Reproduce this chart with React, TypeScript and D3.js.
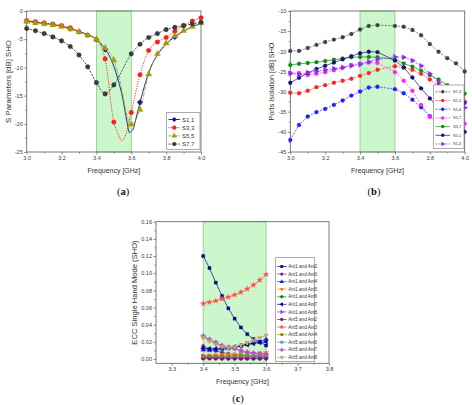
import * as d3 from 'd3';
import React, { useEffect, useRef } from 'react';

const W = 472;
const H = 405;

// ---- (a) reflection coefficients, dB ----
const freqA = [3.0, 3.05, 3.1, 3.15, 3.2, 3.25, 3.3, 3.35, 3.4, 3.45, 3.5, 3.6, 3.65, 3.7, 3.75, 3.8, 3.85, 3.9, 3.95, 4.0];
// S1,1 carries a symbol only every 0.2 GHz, the rest is the traced curve
const s11MarkFreq = [3.05, 3.25, 3.45, 3.65, 3.85];
const s11Mark = [-2.0, -3.1, -6.8, -16.2, -4.6];
const s11CurveFreq = [3.0, 3.1, 3.15, 3.2, 3.3, 3.35, 3.4, 3.475, 3.5, 3.525, 3.55, 3.575, 3.59, 3.6, 3.61, 3.625, 3.675, 3.7, 3.75, 3.8, 3.9, 3.95, 4.0];
const s11Curve = [-1.8, -2.2, -2.4, -2.7, -3.6, -4.2, -5.0, -8.0, -9.8, -12.3, -15.3, -19.6, -21.6, -21.3, -21.0, -19.3, -13.4, -10.9, -7.8, -5.9, -3.6, -2.8, -2.2];
const s33 = [-1.7, -1.9, -2.1, -2.3, -2.6, -3.0, -3.7, -4.3, -5.1, -8.5, -19.7, -18.0, -11.3, -7.0, -5.5, -4.7, -3.6, -2.6, -1.8, -1.2];
const s33DipFreq = [3.525, 3.545, 3.565, 3.58];
const s33Dip = [-21.8, -23.0, -22.3, -20.6];
const s55 = [-1.9, -2.1, -2.3, -2.5, -2.8, -3.2, -3.7, -4.3, -5.0, -6.6, -8.7, -20.1, -17.5, -11.2, -7.6, -5.7, -4.4, -3.5, -2.8, -2.1];
const s55DipFreq = [3.55, 3.575];
const s55Dip = [-14.6, -18.6];
const s77 = [-3.1, -3.5, -4.0, -4.6, -5.3, -6.3, -7.8, -9.9, -12.7, -14.7, -13.1, -7.6, -5.9, -4.7, -4.0, -3.3, -2.9, -2.6, -2.3, -2.0];
const namesA = ['S1,1', 'S3,3', 'S5,5', 'S7,7'];

// ---- (b) port isolation, dB ----
const freqB = freqA;
const isoGray = [-19.9, -19.9, -19.2, -18.4, -17.7, -17.1, -16.5, -15.7, -14.6, -13.7, -13.5, -13.7, -13.9, -14.7, -16.0, -18.2, -20.1, -21.7, -23.0, -25.0];
const isoRed = [-30.3, -30.4, -29.8, -28.9, -28.4, -27.8, -27.3, -26.8, -26.1, -25.4, -24.6, -23.7, -24.0, -24.6, -25.6, -27.0, -28.5, -30.0, -31.3, -32.5];
const isoBlue = [-42.0, -38.3, -36.2, -35.1, -34.3, -33.3, -32.2, -31.0, -30.0, -29.0, -28.8, -29.4, -30.4, -32.0, -33.9, -36.1, -37.3, -36.8, -35.0, -32.8];
const isoMagenta = [-25.4, -25.4, -25.9, -25.6, -25.2, -24.7, -24.1, -23.4, -23.0, -22.8, -22.9, -25.2, -27.3, -29.8, -33.3, -36.3, -37.5, -38.0, -38.0, -38.0];
const isoGreen = [-23.4, -23.1, -22.9, -22.7, -22.4, -22.1, -21.8, -21.5, -21.4, -21.4, -21.5, -22.0, -23.0, -23.8, -24.8, -25.9, -27.0, -28.4, -29.5, -30.5];
const isoNavy = [-27.8, -26.6, -25.4, -24.4, -23.6, -22.8, -22.0, -21.2, -20.5, -20.1, -20.2, -22.3, -24.0, -26.5, -29.2, -31.7, -34.0, -36.5, -38.5, -40.0];
const isoViolet = [-25.5, -25.8, -25.3, -25.0, -24.6, -24.3, -24.0, -23.6, -23.3, -22.6, -22.0, -21.4, -21.5, -22.3, -23.6, -25.6, -27.8, -30.0, -32.0, -34.0];
const namesB = ['S1,3', 'S1,5', 'S1,6', 'S1,7', 'S3,7', 'S5,1', 'S1,4'];

// ---- (c) envelope correlation ----
const freqC = [3.4, 3.42, 3.44, 3.46, 3.48, 3.5, 3.52, 3.54, 3.56, 3.58, 3.6];
const ecc12 = [0.12, 0.106, 0.089, 0.0735, 0.059, 0.047, 0.0368, 0.029, 0.0232, 0.02, 0.0157];
const ecc13 = [0.015, 0.012, 0.0095, 0.0075, 0.0062, 0.0052, 0.0045, 0.004, 0.0036, 0.0033, 0.0031];
const ecc14 = [0.0108, 0.01, 0.0108, 0.0118, 0.0122, 0.0135, 0.0155, 0.0174, 0.0192, 0.0205, 0.0232];
const ecc15 = [0.004, 0.0042, 0.0045, 0.0048, 0.005, 0.0053, 0.0057, 0.006, 0.0064, 0.0068, 0.0075];
const ecc16 = [0.0018, 0.0018, 0.0017, 0.0016, 0.0016, 0.0015, 0.0015, 0.0014, 0.0014, 0.0013, 0.0013];
const ecc17 = [0.0125, 0.0118, 0.012, 0.0126, 0.0132, 0.014, 0.0152, 0.0166, 0.018, 0.0192, 0.02];
const ecc18 = [0.003, 0.0029, 0.0028, 0.0027, 0.0026, 0.0025, 0.0025, 0.0024, 0.0024, 0.0023, 0.0023];
const ecc52 = [0.0005, 0.0005, 0.0005, 0.0004, 0.0004, 0.0004, 0.0004, 0.0004, 0.0004, 0.0004, 0.0004];
const ecc53 = [0.0645, 0.0663, 0.0678, 0.07, 0.0722, 0.0748, 0.0778, 0.0816, 0.0862, 0.092, 0.0985];
const ecc54 = [0.0032, 0.0033, 0.0034, 0.0035, 0.0036, 0.0037, 0.0038, 0.0039, 0.004, 0.0041, 0.0042];
const ecc56 = [0.027, 0.0228, 0.0194, 0.015, 0.0136, 0.0128, 0.009, 0.0072, 0.006, 0.0055, 0.005];
const ecc57 = [0.0262, 0.0225, 0.019, 0.0158, 0.0135, 0.0118, 0.01, 0.0084, 0.0072, 0.0064, 0.0058];
const ecc58 = [0.025, 0.021, 0.0172, 0.0142, 0.0132, 0.0142, 0.0162, 0.019, 0.022, 0.0248, 0.0275];
const namesC = [
  'Ant1 and Ant2', 'Ant1 and Ant3', 'Ant1 and Ant4', 'Ant1 and Ant5', 'Ant1 and Ant6', 'Ant1 and Ant7', 'Ant1 and Ant8',
  'Ant5 and Ant2', 'Ant5 and Ant3', 'Ant5 and Ant4', 'Ant5 and Ant6', 'Ant5 and Ant7', 'Ant5 and Ant8',
];

// operating band shaded in every panel
const bandLo = 3.4;
const bandHi = 3.6;

const SANS = '"Liberation Sans", Arial, sans-serif';
const AXIS = '#5a5a5a';

// regular polygon marker, rot turns the first vertex away from "up"
const polygon = (n: number, rot = 0): d3.SymbolType => ({
  draw(ctx, size) {
    const r = Math.sqrt(size / (0.5 * n * Math.sin((2 * Math.PI) / n)));
    for (let i = 0; i < n; i++) {
      const a = rot - Math.PI / 2 + (i * 2 * Math.PI) / n;
      const px = r * Math.cos(a);
      const py = r * Math.sin(a);
      if (i === 0) ctx.moveTo(px, py);
      else ctx.lineTo(px, py);
    }
    ctx.closePath();
  },
});

const triUp = polygon(3);
const triDown = polygon(3, Math.PI);
const triLeft = polygon(3, -Math.PI / 2);
const triRight = polygon(3, Math.PI / 2);
const diamond = polygon(4);
const square = polygon(4, Math.PI / 4);
const pentagon = polygon(5);
const hexagon = polygon(6);

interface Series {
  name: string;
  x: number[];
  y: number[];
  lineX?: number[];
  lineY?: number[];
  color: string;
  dash?: string;
  shape: d3.SymbolType;
}

interface Panel {
  left: number;
  right: number;
  top: number;
  bottom: number;
  xDomain: [number, number];
  yDomain: [number, number];
  xTicks: number[];
  xMinor: number[];
  yTicks: number[];
  yMinor: number[];
  xDec: number;
  yDec: number;
  curve: d3.CurveFactory;
  lineWidth: number;
  markSize: number;
  series: Series[];
  legend: { x: number; y: number; w: number; h: number; row0: number; step: number; lineX0: number; lineX1: number; textX: number; font: number };
  yTitle: string;
  yTitleX: number;
  yTitleSize: number;
  xTitleY: number;
  caption: string;
  captionX: number;
  captionY: number;
}

const range = (a: number, b: number, s: number) => d3.range(Math.round((b - a) / s) + 1).map((i) => +(a + i * s).toFixed(4));

const seriesA: Series[] = [
  { name: namesA[0], x: s11MarkFreq, y: s11Mark, lineX: s11CurveFreq, lineY: s11Curve, color: '#14148c', shape: diamond },
  { name: namesA[1], x: freqA, y: s33, lineX: s33DipFreq, lineY: s33Dip, color: '#ff1c1c', dash: '1.2,1.2', shape: d3.symbolCircle },
  { name: namesA[2], x: freqA, y: s55, lineX: s55DipFreq, lineY: s55Dip, color: '#a0a000', dash: '3,1.2,1,1.2', shape: triUp },
  { name: namesA[3], x: freqA, y: s77, color: '#3a3a3a', dash: '2,1.3', shape: d3.symbolCircle },
];

const seriesB: Series[] = [
  { name: namesB[0], x: freqB, y: isoGray, color: '#404040', dash: '2,1.3', shape: d3.symbolCircle },
  { name: namesB[1], x: freqB, y: isoRed, color: '#ff2020', dash: '2,1.3', shape: d3.symbolCircle },
  { name: namesB[2], x: freqB, y: isoBlue, color: '#1e1eff', dash: '2,1.3', shape: d3.symbolCircle },
  { name: namesB[3], x: freqB, y: isoMagenta, color: '#ff22ff', dash: '2,1.3', shape: d3.symbolCircle },
  { name: namesB[4], x: freqB, y: isoGreen, color: '#128a12', shape: d3.symbolCircle },
  { name: namesB[5], x: freqB, y: isoNavy, color: '#12127a', shape: d3.symbolCircle },
  { name: namesB[6], x: freqB, y: isoViolet, color: '#8a2bf0', dash: '2,1.3', shape: triRight },
];

const eccValues = [ecc12, ecc13, ecc14, ecc15, ecc16, ecc17, ecc18, ecc52, ecc53, ecc54, ecc56, ecc57, ecc58];
const eccColors = ['#0a0a80', '#8a1a8a', '#1a1aff', '#ff8a1a', '#0a8a0a', '#0a0a80', '#8a3aff', '#800a80', '#ff4a4a', '#8a8a0a', '#5a8ac8', '#c84ac8', '#c8a46a'];
const eccShapes = [square, d3.symbolCircle, triUp, triDown, diamond, triLeft, triRight, hexagon, d3.symbolStar, pentagon, d3.symbolStar, d3.symbolCross, d3.symbolWye];
const seriesC: Series[] = namesC.map((name, i) => ({ name, x: freqC, y: eccValues[i], color: eccColors[i], shape: eccShapes[i] }));

const panels: Panel[] = [
  {
    left: 26.7, right: 201, top: 11, bottom: 152,
    xDomain: [3, 4], yDomain: [-25, 0],
    xTicks: range(3, 4, 0.2), xMinor: range(3.1, 3.9, 0.2),
    yTicks: range(-25, 0, 5), yMinor: range(-22.5, -2.5, 5),
    xDec: 1, yDec: 0, curve: d3.curveMonotoneX, lineWidth: 0.9, markSize: 17,
    series: seriesA,
    legend: { x: 166.7, y: 112.3, w: 33.3, h: 37, row0: 119.5, step: 8.2, lineX0: 168.5, lineX1: 180, textX: 182, font: 6 },
    yTitle: 'S Parameters [dB] SHO', yTitleX: 8, yTitleSize: 7.8, xTitleY: 172.5,
    caption: 'a', captionX: 123, captionY: 195,
  },
  {
    left: 290.3, right: 464.7, top: 11, bottom: 152,
    xDomain: [3, 4], yDomain: [-45, -10],
    xTicks: range(3, 4, 0.2), xMinor: range(3.1, 3.9, 0.2),
    yTicks: range(-45, -10, 5), yMinor: range(-42.5, -12.5, 5),
    xDec: 1, yDec: 0, curve: d3.curveLinear, lineWidth: 0.7, markSize: 12,
    series: seriesB,
    legend: { x: 433.3, y: 85, w: 30.7, h: 63.3, row0: 91.8, step: 8.7, lineX0: 435.5, lineX1: 450, textX: 453, font: 4 },
    yTitle: 'Ports Isolation [dB] SHO', yTitleX: 271, yTitleSize: 7.2, xTitleY: 172.5,
    caption: 'b', captionX: 374, captionY: 195,
  },
  {
    left: 156, right: 329, top: 221.7, bottom: 363.3,
    xDomain: [3.25, 3.8], yDomain: [-0.005, 0.16],
    xTicks: range(3.3, 3.8, 0.1), xMinor: range(3.35, 3.75, 0.1),
    yTicks: range(0, 0.16, 0.02), yMinor: range(0.01, 0.15, 0.02),
    xDec: 1, yDec: 2, curve: d3.curveLinear, lineWidth: 0.7, markSize: 10,
    series: seriesC,
    legend: { x: 275.7, y: 257.7, w: 39, h: 104, row0: 266.5, step: 7.57, lineX0: 277, lineX1: 286.5, textX: 288.3, font: 4.6 },
    yTitle: 'ECC Single Hand Mode (SHO)', yTitleX: 134, yTitleSize: 7.6, xTitleY: 384,
    caption: 'c', captionX: 238, captionY: 401.5,
  },
];

function drawPanel(svg: d3.Selection<SVGSVGElement, unknown, null, undefined>, p: Panel) {
  const g = svg.append('g');
  const x = d3.scaleLinear().domain(p.xDomain).range([p.left, p.right]);
  const y = d3.scaleLinear().domain(p.yDomain).range([p.bottom, p.top]);

  // shaded band
  g.append('rect')
    .attr('x', x(bandLo))
    .attr('y', p.top)
    .attr('width', x(bandHi) - x(bandLo))
    .attr('height', p.bottom - p.top)
    .attr('fill', '#ccf6cc')
    .attr('stroke', '#86cc86')
    .attr('stroke-width', 0.8);

  // axes, major + minor
  const axes = g.append('g');
  axes.append('g')
    .attr('transform', `translate(0,${p.bottom})`)
    .call(d3.axisBottom(x).tickValues(p.xTicks).tickFormat((d) => (+d).toFixed(p.xDec)).tickSize(2.5).tickSizeOuter(0).tickPadding(1.6));
  axes.append('g')
    .attr('transform', `translate(0,${p.bottom})`)
    .call(d3.axisBottom(x).tickValues(p.xMinor).tickFormat(() => '').tickSize(1.5).tickSizeOuter(0));
  axes.append('g')
    .attr('transform', `translate(${p.left},0)`)
    .call(d3.axisLeft(y).tickValues(p.yTicks).tickFormat((d) => (+d).toFixed(p.yDec)).tickSize(2.5).tickSizeOuter(0).tickPadding(1.5));
  axes.append('g')
    .attr('transform', `translate(${p.left},0)`)
    .call(d3.axisLeft(y).tickValues(p.yMinor).tickFormat(() => '').tickSize(1.5).tickSizeOuter(0));
  axes.selectAll('.domain').remove();
  axes.selectAll('.tick line').attr('stroke', AXIS).attr('stroke-width', 0.7);
  axes.selectAll('.tick text')
    .attr('font-size', 5.5)
    .attr('font-family', SANS)
    .attr('fill', '#3a3a3a');

  // frame
  g.append('rect')
    .attr('x', p.left)
    .attr('y', p.top)
    .attr('width', p.right - p.left)
    .attr('height', p.bottom - p.top)
    .attr('fill', 'none')
    .attr('stroke', AXIS)
    .attr('stroke-width', 0.8);

  const line = d3.line<[number, number]>()
    .x((d) => x(d[0]))
    .y((d) => y(d[1]))
    .curve(p.curve);

  p.series.forEach((s) => {
    const pts: [number, number][] = s.x.map((v, i) => [v, s.y[i]]);
    const extra: [number, number][] = s.lineX ? s.lineX.map((v, i) => [v, s.lineY![i]]) : [];
    const linePts = pts.concat(extra).sort((a, b) => a[0] - b[0]);
    g.append('path')
      .attr('d', line(linePts))
      .attr('fill', 'none')
      .attr('stroke', s.color)
      .attr('stroke-width', p.lineWidth)
      .attr('stroke-dasharray', s.dash ?? null);
    g.append('g')
      .selectAll('path')
      .data(pts)
      .join('path')
      .attr('transform', (d) => `translate(${x(d[0])},${y(d[1])})`)
      .attr('d', d3.symbol(s.shape, p.markSize)())
      .attr('fill', s.color)
      .attr('stroke', s.color)
      .attr('stroke-width', 0.3);
  });

  // legend
  const L = p.legend;
  const lg = g.append('g');
  lg.append('rect')
    .attr('x', L.x)
    .attr('y', L.y)
    .attr('width', L.w)
    .attr('height', L.h)
    .attr('fill', '#fff')
    .attr('stroke', '#777')
    .attr('stroke-width', 0.6);
  p.series.forEach((s, i) => {
    const ry = L.row0 + i * L.step;
    lg.append('line')
      .attr('x1', L.lineX0)
      .attr('x2', L.lineX1)
      .attr('y1', ry)
      .attr('y2', ry)
      .attr('stroke', s.color)
      .attr('stroke-width', p.lineWidth)
      .attr('stroke-dasharray', s.dash ?? null);
    lg.append('path')
      .attr('transform', `translate(${(L.lineX0 + L.lineX1) / 2},${ry})`)
      .attr('d', d3.symbol(s.shape, p.markSize * 0.8)())
      .attr('fill', s.color);
    lg.append('text')
      .attr('x', L.textX)
      .attr('y', ry)
      .attr('dy', '0.35em')
      .attr('font-size', L.font)
      .attr('font-family', SANS)
      .attr('fill', '#333')
      .text(s.name);
  });

  // titles
  g.append('text')
    .attr('transform', `translate(${p.yTitleX},${(p.top + p.bottom) / 2}) rotate(-90)`)
    .attr('text-anchor', 'middle')
    .attr('dy', '0.35em')
    .attr('font-size', p.yTitleSize)
    .attr('font-family', SANS)
    .attr('fill', '#333')
    .text(p.yTitle);
  g.append('text')
    .attr('x', (p.left + p.right) / 2)
    .attr('y', p.xTitleY)
    .attr('text-anchor', 'middle')
    .attr('font-size', 7)
    .attr('font-family', SANS)
    .attr('fill', '#333')
    .text('Frequency [GHz]');

  const cap = g.append('text')
    .attr('x', p.captionX)
    .attr('y', p.captionY)
    .attr('text-anchor', 'middle')
    .attr('font-size', 10.5)
    .attr('font-family', '"Liberation Serif", "DejaVu Serif", serif')
    .attr('fill', '#111');
  cap.append('tspan').text('(');
  cap.append('tspan').attr('font-weight', 'bold').text(p.caption);
  cap.append('tspan').text(')');
}

const App = () => {
  const svgRef = useRef<SVGSVGElement>(null);

  useEffect(() => {
    const svg = d3.select(svgRef.current!);
    svg.selectAll('*').remove();
    svg.append('rect').attr('width', W).attr('height', H).attr('fill', '#fff');
    panels.forEach((p) => drawPanel(svg, p));
  }, []);

  return (
    <svg
      ref={svgRef}
      width={W}
      height={H}
      style={{ position: 'absolute', left: 0, top: 0, display: 'block' }}
    />
  );
};

export default App;
